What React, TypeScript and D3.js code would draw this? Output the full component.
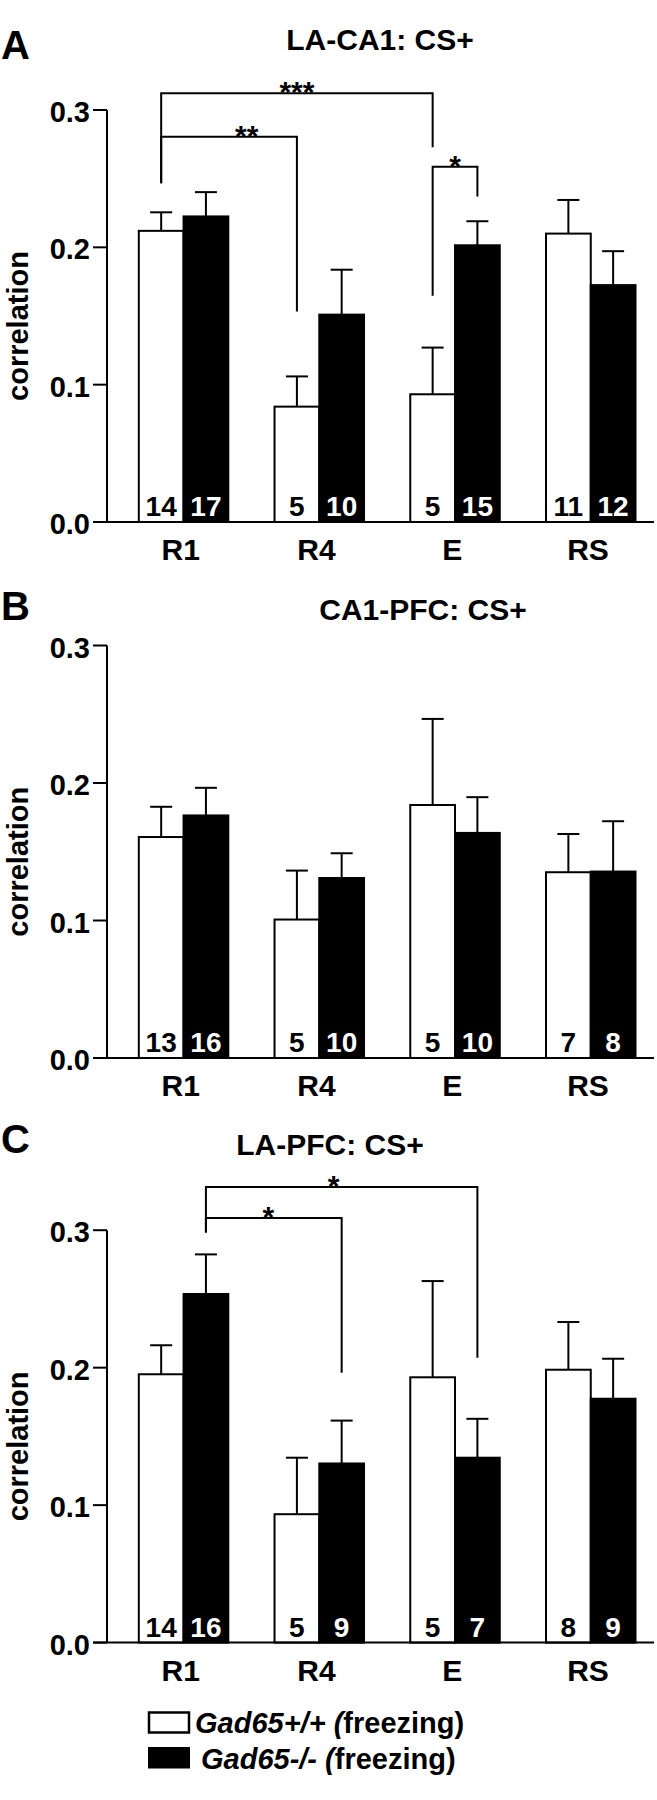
import React from "react";
import * as d3 from "d3";

// ---------- data ----------
const categories = ["R1", "R4", "E", "RS"];
const seriesKeys = ["wt", "ko"];
const legendLabels = [
  { italic: "Gad65+/+ (", plain: "freezing)" },
  { italic: "Gad65-/- (", plain: "freezing)" },
];
const yTicks = [0.0, 0.1, 0.2, 0.3];

// Panel A: LA-CA1: CS+
const aWt = [0.212, 0.084, 0.093, 0.21];
const aWtErr = [0.0135, 0.022, 0.034, 0.0245];
const aWtN = [14, 5, 5, 11];
const aKo = [0.2225, 0.151, 0.2015, 0.1725];
const aKoErr = [0.0177, 0.0327, 0.0175, 0.0247];
const aKoN = [17, 10, 15, 12];

// Panel B: CA1-PFC: CS+
const bWt = [0.1607, 0.1007, 0.184, 0.1351];
const bWtErr = [0.022, 0.0356, 0.0626, 0.0278];
const bWtN = [13, 5, 5, 7];
const bKo = [0.1764, 0.1309, 0.1637, 0.1356];
const bKoErr = [0.0201, 0.018, 0.026, 0.0366];
const bKoN = [16, 10, 10, 8];

// Panel C: LA-PFC: CS+
const cWt = [0.1952, 0.0934, 0.193, 0.1985];
const cWtErr = [0.0211, 0.0411, 0.07, 0.0347];
const cWtN = [14, 5, 5, 8];
const cKo = [0.2536, 0.1303, 0.1345, 0.1774];
const cKoErr = [0.0288, 0.0312, 0.0283, 0.0291];
const cKoN = [16, 9, 7, 9];

// significance brackets: [category index, series index]
const aBrackets = [
  { from: [0, 0], to: [2, 0], y: 0.3122, yFrom: 0.2466, yTo: 0.2728, label: "***", at: 0.5 },
  { from: [0, 0], to: [1, 0], y: 0.2806, yFrom: 0.2466, yTo: 0.1533, label: "**", at: 0.63 },
  { from: [2, 0], to: [2, 1], y: 0.2587, yFrom: 0.1648, yTo: 0.237, label: "*", at: 0.5 },
];
const bBrackets: any[] = [];
const cBrackets = [
  { from: [0, 1], to: [2, 1], y: 0.3315, yFrom: 0.2984, yTo: 0.2073, label: "*", at: 0.47 },
  { from: [0, 1], to: [1, 1], y: 0.3088, yFrom: 0.2984, yTo: 0.1963, label: "*", at: 0.46 },
];

const panels = [
  { letter: "A", title: "LA-CA1: CS+", wt: aWt, wtErr: aWtErr, wtN: aWtN, ko: aKo, koErr: aKoErr, koN: aKoN, brackets: aBrackets },
  { letter: "B", title: "CA1-PFC: CS+", wt: bWt, wtErr: bWtErr, wtN: bWtN, ko: bKo, koErr: bKoErr, koN: bKoN, brackets: bBrackets },
  { letter: "C", title: "LA-PFC: CS+", wt: cWt, wtErr: cWtErr, wtN: cWtN, ko: cKo, koErr: cKoErr, koN: cKoN, brackets: cBrackets },
];

// ---------- layout ----------
const W = 657;
const H = 1800;
const FONT = "'Liberation Sans', Arial, Helvetica, sans-serif";
const layout = [
  { top: 110, zero: 522, titleX: 380, titleY: 50, letterY: 59 },
  { top: 645.5, zero: 1058, titleX: 423, titleY: 620, letterY: 620 },
  { top: 1230.2, zero: 1642.6, titleX: 330, titleY: 1155, letterY: 1153 },
];
const axisX = 107;
const tickLen = 14;

const xCenter = d3.scalePoint<string>().domain(categories).range([182.8, 590]);
const xSub = d3.scaleBand<string>().domain(seriesKeys).range([-44, 45.5]).padding(0);

function Panel({ p, l }: { p: any; l: any }) {
  const y = d3.scaleLinear().domain([0, 0.3]).range([l.zero, l.top]);
  const bw = xSub.bandwidth();
  const barX = (ci: number, si: number) => (xCenter(categories[ci]) as number) + (xSub(seriesKeys[si]) as number);
  const barC = (ci: number, si: number) => barX(ci, si) + bw / 2;
  const series = [
    { vals: p.wt, errs: p.wtErr, ns: p.wtN, fill: "#fff", text: "#000" },
    { vals: p.ko, errs: p.koErr, ns: p.koN, fill: "#000", text: "#fff" },
  ];
  const capHalf = 11;
  return (
    <g>
      <text x={1} y={l.letterY} fontFamily={FONT} fontWeight="bold" fontSize={40}>{p.letter}</text>
      <text x={l.titleX} y={l.titleY} textAnchor="middle" fontFamily={FONT} fontWeight="bold" fontSize={30}>{p.title}</text>
      {/* y axis */}
      <line x1={axisX} x2={axisX} y1={y(0.3)} y2={y(0)} stroke="#000" strokeWidth={2} />
      {yTicks.map((t) => (
        <g key={t}>
          <line x1={axisX - tickLen} x2={axisX} y1={y(t)} y2={y(t)} stroke="#000" strokeWidth={2} />
          <text x={90} y={y(t) + 12} textAnchor="end" fontFamily={FONT} fontWeight="bold" fontSize={29}>{t.toFixed(1)}</text>
        </g>
      ))}
      <text transform={`translate(28,${(l.top + l.zero) / 2 + 10}) rotate(-90)`} textAnchor="middle" fontFamily={FONT} fontWeight="bold" fontSize={29}>correlation</text>
      {/* bars */}
      {series.map((s, si) =>
        categories.map((c, ci) => {
          const x0 = barX(ci, si);
          const top = y(s.vals[ci]);
          const capY = y(s.vals[ci] + s.errs[ci]);
          const cx = barC(ci, si);
          return (
            <g key={c + si}>
              <line x1={cx} x2={cx} y1={top} y2={capY} stroke="#000" strokeWidth={2} />
              <line x1={cx - capHalf} x2={cx + capHalf} y1={capY} y2={capY} stroke="#000" strokeWidth={2} />
              <rect x={x0} y={top} width={bw} height={y(0) - top} fill={s.fill} stroke="#000" strokeWidth={2} />
              <text x={cx} y={y(0) - 6} textAnchor="middle" fontFamily={FONT} fontWeight="bold" fontSize={28} fill={s.text}>{s.ns[ci]}</text>
            </g>
          );
        })
      )}
      {/* x axis */}
      <line x1={axisX - tickLen} x2={654} y1={y(0)} y2={y(0)} stroke="#000" strokeWidth={2} />
      {categories.map((c) => (
        <text key={c} x={(xCenter(c) as number) - 2} y={y(0) + 38} textAnchor="middle" fontFamily={FONT} fontWeight="bold" fontSize={30}>{c}</text>
      ))}
      {/* brackets */}
      {p.brackets.map((b: any, i: number) => {
        const x1 = barC(b.from[0], b.from[1]);
        const x2 = barC(b.to[0], b.to[1]);
        const yl = y(b.y);
        const path = d3.path();
        path.moveTo(x1, y(b.yFrom));
        path.lineTo(x1, yl);
        path.lineTo(x2, yl);
        path.lineTo(x2, y(b.yTo));
        return (
          <g key={i}>
            <path d={path.toString()} fill="none" stroke="#000" strokeWidth={2} />
            <text x={x1 + (x2 - x1) * b.at} y={yl + 9} textAnchor="middle" fontFamily={FONT} fontWeight="bold" fontSize={30}>{b.label}</text>
          </g>
        );
      })}
    </g>
  );
}

export default function App() {
  return (
    <svg width={W} height={H} style={{ position: "absolute", left: 0, top: 0, background: "#fff" }}>
      <rect x={0} y={0} width={W} height={H} fill="#fff" />
      {panels.map((p, i) => (
        <Panel key={p.letter} p={p} l={layout[i]} />
      ))}
      {/* legend */}
      <rect x={149} y={1712.5} width={40} height={20} fill="#fff" stroke="#000" strokeWidth={2.5} />
      <rect x={148} y={1747} width={42} height={21.5} fill="#000" />
      <text x={195} y={1733} fontFamily={FONT} fontWeight="bold" fontSize={29}>
        <tspan fontStyle="italic">{legendLabels[0].italic}</tspan>
        <tspan>{legendLabels[0].plain}</tspan>
      </text>
      <text x={201} y={1768.5} fontFamily={FONT} fontWeight="bold" fontSize={29}>
        <tspan fontStyle="italic">{legendLabels[1].italic}</tspan>
        <tspan>{legendLabels[1].plain}</tspan>
      </text>
    </svg>
  );
}
